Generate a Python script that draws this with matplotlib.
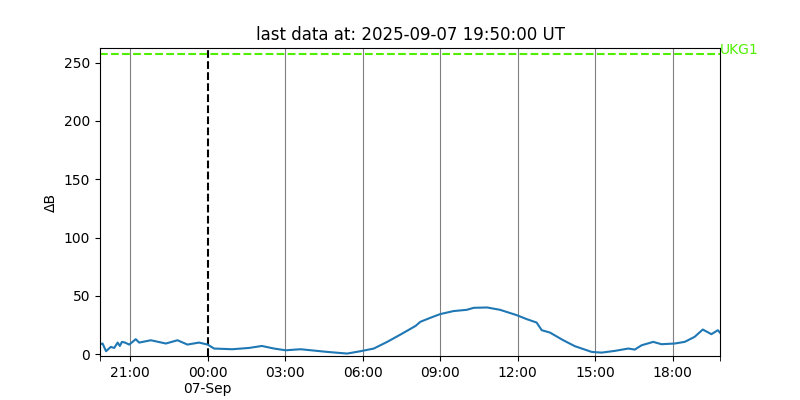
import numpy as np
import pandas as pd
import matplotlib
matplotlib.use("Agg")
import matplotlib.pyplot as plt
import matplotlib.dates as mdates

times = ["2025-09-06 19:50", "2025-09-06 19:56", "2025-09-06 20:04", "2025-09-06 20:15",
         "2025-09-06 20:23", "2025-09-06 20:31", "2025-09-06 20:36", "2025-09-06 20:41",
         "2025-09-06 20:48", "2025-09-06 20:58", "2025-09-06 21:13", "2025-09-06 21:21",
         "2025-09-06 21:48", "2025-09-06 22:23", "2025-09-06 22:50", "2025-09-06 23:13",
         "2025-09-06 23:40", "2025-09-07 00:00", "2025-09-07 00:15", "2025-09-07 00:57",
         "2025-09-07 01:36", "2025-09-07 02:06", "2025-09-07 02:34", "2025-09-07 03:01",
         "2025-09-07 03:36", "2025-09-07 04:38", "2025-09-07 05:24", "2025-09-07 05:55",
         "2025-09-07 06:26", "2025-09-07 06:57", "2025-09-07 07:28", "2025-09-07 08:03",
         "2025-09-07 08:14", "2025-09-07 08:37", "2025-09-07 09:00", "2025-09-07 09:31",
         "2025-09-07 10:02", "2025-09-07 10:18", "2025-09-07 10:49", "2025-09-07 11:19",
         "2025-09-07 11:58", "2025-09-07 12:21", "2025-09-07 12:44", "2025-09-07 12:56",
         "2025-09-07 13:15", "2025-09-07 13:46", "2025-09-07 14:13", "2025-09-07 14:52",
         "2025-09-07 15:15", "2025-09-07 15:46", "2025-09-07 16:17", "2025-09-07 16:32",
         "2025-09-07 16:48", "2025-09-07 17:15", "2025-09-07 17:34", "2025-09-07 18:05",
         "2025-09-07 18:28", "2025-09-07 18:51", "2025-09-07 19:10", "2025-09-07 19:30",
         "2025-09-07 19:45", "2025-09-07 19:50"]
dB = [8.5, 9.2, 2.6, 6.3,
      5.4, 10.0, 7.1, 10.6,
      10.0, 8.3, 12.9, 10.0,
      12.0, 9.2, 12.0, 8.3,
      10.0, 8.3, 4.9, 4.3,
      5.4, 7.1, 4.9, 3.4,
      4.3, 2.0, 0.6, 2.6,
      4.9, 10.6, 16.9, 24.3,
      27.8, 31.2, 34.4, 37.0,
      38.1, 39.8, 40.1, 38.1,
      33.5, 30.1, 27.2, 20.6,
      18.6, 12.0, 6.9, 2.0,
      1.4, 2.9, 4.9, 4.0,
      7.7, 10.6, 8.6, 9.2,
      10.6, 14.9, 21.2, 17.2,
      20.6, 18.5]

threshold = 257.5
station = "UKG1"
t_start = pd.Timestamp("2025-09-06 19:50")
t_end = pd.Timestamp("2025-09-07 19:50")
midnight = pd.Timestamp("2025-09-07 00:00")
tick_times = pd.date_range("2025-09-06 21:00", "2025-09-07 18:00", freq="3h")

t = pd.to_datetime(times)

fig, ax = plt.subplots(figsize=(8, 4), dpi=100)

for tt in tick_times:
    if tt != midnight:
        ax.axvline(tt, color='grey', lw=0.8)
ax.axvline(midnight, color='k', ls='--', lw=1.5)

ax.plot(t, dB, color='C0', lw=1.5)

ax.axhline(threshold, color='#50ee00', ls='--', lw=1.5)
ax.text(1.0, threshold, station, color='#50ee00', fontsize=10,
        ha='left', va='baseline', transform=ax.get_yaxis_transform())

ax.set_xlim(t_start, t_end)
ax.set_ylim(-1.5, 262.5)

labels = []
for tt in tick_times:
    if tt == midnight:
        labels.append(tt.strftime("%H:%M") + "\n" + tt.strftime("%d-%b"))
    else:
        labels.append(tt.strftime("%H:%M"))
ax.set_xticks(tick_times)
ax.set_xticklabels(labels)
ax.set_xticks([t_start, t_end], minor=True)
ax.tick_params(axis='x', which='minor', length=3.5)

ax.set_ylabel("ΔB")
ax.set_title("last data at: 2025-09-07 19:50:00 UT")

fig.savefig("out.png", dpi=100)
